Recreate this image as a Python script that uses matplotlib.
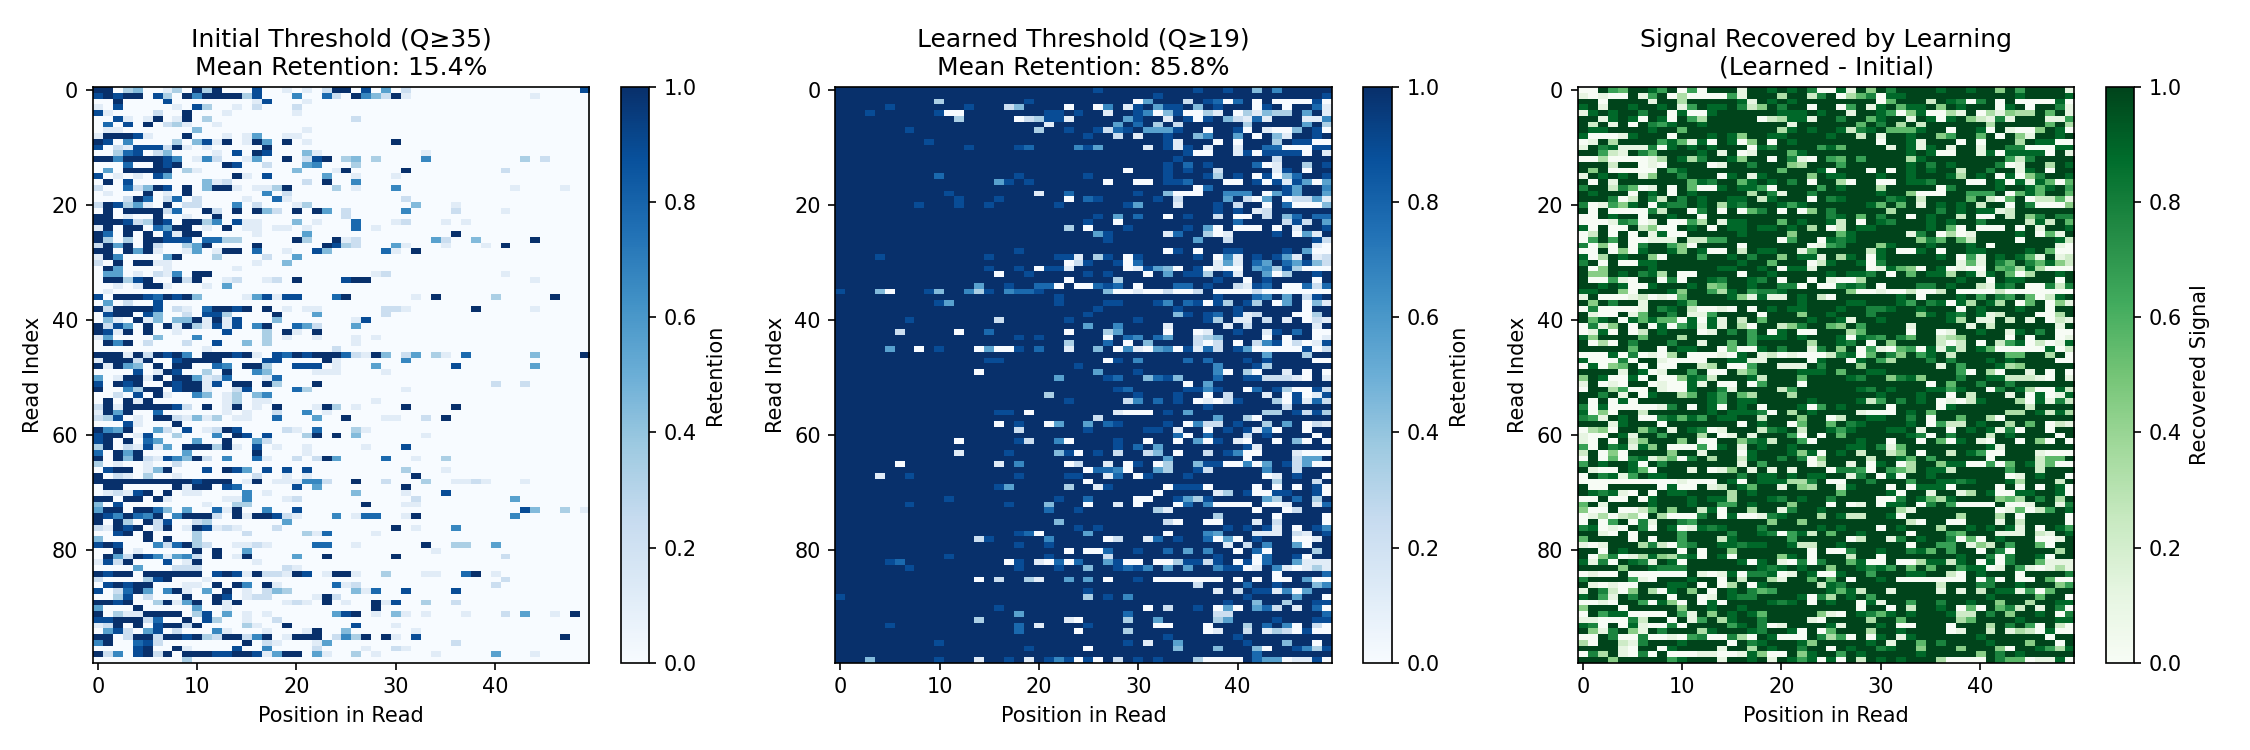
#!/usr/bin/env python
"""Per-base retention heatmaps for two quality thresholds and the signal gained."""

import matplotlib

matplotlib.use("Agg")
import matplotlib.pyplot as plt
import numpy as np

# One string per read, five groups of ten positions, digit d means retention d/9.
# "." is a whole group at the background level, missing groups likewise.
initial_rows = [
    "9903400130 9390008001 0102990805 0200000000 0000000008",
    "8989908309 6999938000 6007209642 9100000000 0000100000",
    "0090000800 0000001800 0100000000",
    "1080000010 8300102000 2000000000",
    "8100002009 0001000000 1000000000",
    "0081019019 0300000000 0000002000",
    "0708090231 0010000000",
    "0110000000 4000000000 0100000000",
    "1999810009 0001015001 1000000000",
    "9806000030 4819019509 0100000000 9000000000",
    "8021888291 0100000900",
    "0037802400 0010809800 0410000000 0001000000",
    "9969999860 1620015009 0289034030 0006000000 0003020000",
    "0007009890 0009800200 0560003000",
    "0509999903 1000000000 4000190000 0900000000 0200000000",
    "8010108500 0000910800 0005001000 1000000000",
    "0908000000 0412000000 0209006000",
    "2007249809 0499101139 0000301000 6000000000 0010000100",
    "0100090109 0000000602",
    "0002970270 2000010071 . 0200000000",
    "2983510902 2000602000 1300000000 0040001000",
    "0909999270 0920909420 9095020000 0600002000 0100000000",
    "9901009001 0090000000 0000020000",
    "9998239809 9360811000 4010007000 1200010100",
    "1909907599 0109011011 0100007010",
    "9709090819 9000001000 0500000000 0000009000",
    "9303099888 0773300000 9300912000 0000520040 0000900000",
    "2959092003 5900009000 0009832000 5100010001 0900000000",
    "9909591001 5019907001 0084000007 1090000000",
    "1960000590 0030000200 5000000000",
    "2090991100 0000001004",
    "0950000100 0000100000",
    "0550102160 9900000000 0000000012 . 0100000000",
    "0993890092 9001200120 9000089900 . 0000100000",
    "0010199100 0105000000",
    "0100000000",
    "8099987989 4000015818 8000790000 0010900000 3000009000",
    "0502008000",
    "9299998021 0799890901 0110000002 2100000090 0000100000",
    "0899084002 0883000090 0050000002",
    "0410914044 9191800040 0000001800",
    "9285090919 3181806900 7520005000",
    "9819090010 0008000309 1090000000",
    "1500004000 6000000301 0010001010",
    "0969020002 0080040300 0000001000",
    ". 0100000000 0000200000",
    "9991929896 0999891087 9899972194 0250310700 0000400009",
    "1999290089 9990000880 0009100000 0600000000",
    "9195409099 0076099300 8880100050 0000008000 0000500000",
    "0000801980 0309006400 0011100001",
    "5019919099 5127000170",
    "8098900989 9180990930 0090000000 . 2002000000",
    "9006399089 9100280000 7300000000 0100000000",
    "0020809100 6401304600",
    "0909190000 0001301100 0000000010",
    "2919999982 0901901090 0019301000 0900009000",
    "1959007000 0001010020 0601000000",
    "2380109921 4130110070 0050090001 1002090000",
    "0008100090",
    "9659005208 0129800002 1070003100",
    "8990180030 0060980800 0390904000 0001000000",
    "8909075000 5009005200",
    "3902181509 9939108010 0100000100 0800000000",
    "7095900005 0000009000 0100000000",
    "9094921864 9206007100 2029500007 0010030000",
    "3010010020",
    "0899014900 0809850808 0800000000 0300010000",
    "9021030010 0000002001 0100000000 0090000000",
    "9999999999 8999019011 1662009002 0003001121 0001000000",
    "0990000091 9908700000 8050000000 0900000000",
    "0121890901 1000060100 0000004000 0100080000",
    "9909909100 0001160001 2000000000 0020000000 0050000000",
    "4080000000 0100330000 0000000900 0110000000",
    "5990997405 0071900600 8000000000 . 0008400301",
    "9869769069 9920919982 1000601770 0190000000 0060000000",
    "9093092800 2300000005",
    "2198902901 9812100020 . 9010006000",
    "0089090000 3000020000 0317000010",
    "4000090900 3000000000",
    "8980006279 3200112100 0077001000 0009003300 5000000000",
    "0090100000 9090050000 . 0000100000",
    "0952986156 2090190000 5009000000 9000000000 0200000000",
    "1829000801 9000001000",
    "0000500022 2000000002 1000000000",
    "9899099999 9089819221 9801991003 0001100790 1000000000",
    "2000038900 0100000000 . . 0200000000",
    "0898990001 1090960910 0000712000 . 2000000000",
    "8027950691 0509010243 0000004170 0800008000",
    "0038020009 0098012200 0019200000",
    "9989003915 9091900001 2109010091 8003002000",
    "5000900000 5001000000 0000000090",
    "9031199990 3805010100 0000589010 4101000100 0205001090",
    "8899927009 0830010020",
    "1290908992 9000031009 0000008000 1000000000",
    "0582058020 0061000100 0190040000 0010000000",
    "9902992998 9329926901 9990263909 1080000000 0000000900",
    "6900782000 0000090210 0015000000 0000002000",
    "0000890091 0000800600 0020000100 2100000000",
    "9260892909 9988998159 9051003010 0000100000 5000100000",
    "0000000003",
]

learned_rows = [
    ". . 9999998999 9999998998 9949699999",
    ". . . 9989999999 9999999998",
    ". 3999999998 . 0599929870 7909000080",
    "9999989999 9998999249 9990990691 8958894989 9908909971",
    "9998999999 8009999999 9889899199 8604800319 0314339591",
    ". 9939999902 3881999995 8991980894 2171999116",
    ". . 9199999959 7939299999 9399999593",
    "9999999899 . 3998998278 9555899099 8091004980",
    ". . 9999989929 1998994699 5909419989",
    "9999999998 . . 9998199909 0999398800",
    ". 9998999987 9999685999 9198189199 1997700088",
    ". . . 9999980099 1808888091",
    ". . . 9999899999 9999299999",
    ". . . 9998979899 9970199398",
    ". . 9999999990 9998989929 9999189099",
    ". 7999999989 9999989999 9998999839 8908047998",
    ". 9999995898 9999999099 0098879990 0980818505",
    ". . . 9999990799 9999985996",
    ". 9899999999 1997999999 8994000996 6690585995",
    ". 9989998999 9990978999 9989299995 9205902251",
    "9999999989 9989989999 9989999998 5999199989 2990970004",
    ". . . 9999999989 8912999999",
    ". . 9999998959 7990989929 0092947977",
    ". . 9999989909 . 7999928295",
    ". . 9993909998 9999989509 0009091998",
    ". . 9999995899 9991799301 9999890519",
    ". . 9999999899 9999995992 9999999982",
    ". . . . 9999999910",
    ". 9999999989 . 9990890998 8999989500",
    "9999899999 9999989999 9988193890 8999998906 1989851912",
    ". . 9990289980 7999999915 1975975842",
    ". 9999989989 0881999990 1854098010 0956383000",
    ". 9999990998 9999989899 9095988398 1995039989",
    ". . 9990999939 9999999989 9098999909",
    ". 9999599899 7709007879 0999779899 2187900727",
    "8999409998 4996389677 8999999400 1002002900 0020000000",
    ". . 9989999999 9999999989 9976959289",
    ". 8599999999 9989999889 9986978083 9839059041",
    ". . 9999998999 9999899999 8999999099",
    ". . 9999989999 9999489879 8129990039",
    "9999999899 9999992999 9998999999 8999999839 1192919021",
    ". . 9999959969 9991999991 9299999919",
    "9999992999 9909979999 9990999359 9990990199 8991897900",
    ". 9999999989 8999999097 6975992349 9990909901",
    ". . 9993999790 9499992029 0926802018",
    "9999959909 8999050089 7991994906 1056081729 8500000802",
    ". . . . 9995999399",
    ". 9999988999 9999999089 6999979799 9898999900",
    ". . 9999899999 9999999969 9983999999",
    ". 9999099999 9999995999 8999999960 9309919090",
    ". . 9959999879 9478499979 9882221091",
    ". . . 9999909599",
    ". . 9999999987 9999988689 9079830082",
    ". . 9399999999 8999899092 9991908018",
    ". . 9998999992 6979890102 8999308172",
    ". . . 9999999899 9999929999",
    ". 9999998890 9999999910 0098959999 9993398283",
    ". . 9999992999 9999999959 9309999999",
    ". 9999990989 9059959789 9998906229 8993959021",
    ". 9999999929 9999989999 9889199098 9817099099",
    ". . . 9999709799 9298999909",
    ". 9909999982 9960999989 9099095089 1099094090",
    ". . 9999999989 7959999999 9819999999",
    ". 9919999899 9948098929 9249099298 6009991000",
    ". . . 9995999999 9099992559",
    "9999990999 9999991969 9990299190 8903994880 0605982500",
    ". . 9999907760 9953998299 9996992999",
    "9999199899 9999999989 9998899179 0899989999 9990198990",
    ". . 9999909999 . 9999399929",
    ". 9999998599 9993991899 9990888099 9909090980",
    ". . . 9909999913 9800889980",
    ". 9899999999 9989979999 0099853899 9995397939",
    "9999999899 9999999899 9499909919 0999079600 0090019917",
    ". . 9799899999 9931999999 9909902999",
    ". . . 9999999939 9999099990",
    ". . 9949999999 9992099009 9919299990",
    ". . 9999898999 9999999998 9898190986",
    ". 9999999987 0999959999 9990999659 9911192198",
    ". 9999289999 9699999029 9179899705 0989990019",
    ". 9999999989 9899999999 9999999991 9296995099",
    ". . 9990900799 8997959699 0970999939",
    ". 9899999999 9899999299 9999999989 9907998099",
    "9999987999 9999999089 1070799580 0900388289 0807995111",
    "9999999899 9999999989 9989949987 8695959968 8019610131",
    ". . . . 9999099997",
    ". 9999092993 1995959099 8900000009 0909009500",
    ". . . 9999992999 9799899946",
    ". . 9999989999 9999999919 2988160599",
    "8999999999 . 9999939896 . 9899995990",
    ". . . 9999999998 9949939988",
    ". 9999998999 . 9092998905 0957291970",
    ". 9999999959 9999999997 9999999922 9999999997",
    ". 9999399999 9991099993 9959999935 9999899988",
    "9999989999 9999999979 1999989999 9900999099 9397960920",
    ". 9999999979 9999099993 9999999019 9291320800",
    ". . . 9998999999 8999999999",
    ". 8999999999 9999999998 9199599999 9899949909",
    ". 9999999998 9999909999 9999499949 9940998638",
    ". . . . 9979999999",
    "9994999999 8999199891 9868080929 8989993000 0975501180",
]

titles = [
    "Initial Threshold (Q≥35)\nMean Retention: 15.4%",
    "Learned Threshold (Q≥19)\nMean Retention: 85.8%",
    "Signal Recovered by Learning\n(Learned - Initial)",
]
colorbar_labels = ["Retention", "Retention", "Recovered Signal"]
colormaps = ["Blues", "Blues", "Greens"]


def _parse_rows(rows, background):
    parsed = []
    for row in rows:
        groups = [background * 10 if g == "." else g for g in row.split()]
        digits = "".join(groups).ljust(50, background)
        if len(digits) != 50:
            raise ValueError(f"bad row: {row}")
        parsed.append([int(d) / 9 for d in digits])
    return np.array(parsed)


initial = _parse_rows(initial_rows, "0")
learned = _parse_rows(learned_rows, "9")
recovered = np.clip(learned - initial, 0, 1)

fig, axes = plt.subplots(1, 3, figsize=(15, 5))
panels = [initial, learned, recovered]
for ax, data, title, label, cmap in zip(axes, panels, titles, colorbar_labels, colormaps):
    im = ax.imshow(data, aspect="auto", cmap=cmap, vmin=0, vmax=1)
    ax.set_title(title)
    ax.set_xlabel("Position in Read")
    ax.set_ylabel("Read Index")
    fig.colorbar(im, ax=ax, label=label)

fig.tight_layout()
fig.savefig("out.png", dpi=150)
